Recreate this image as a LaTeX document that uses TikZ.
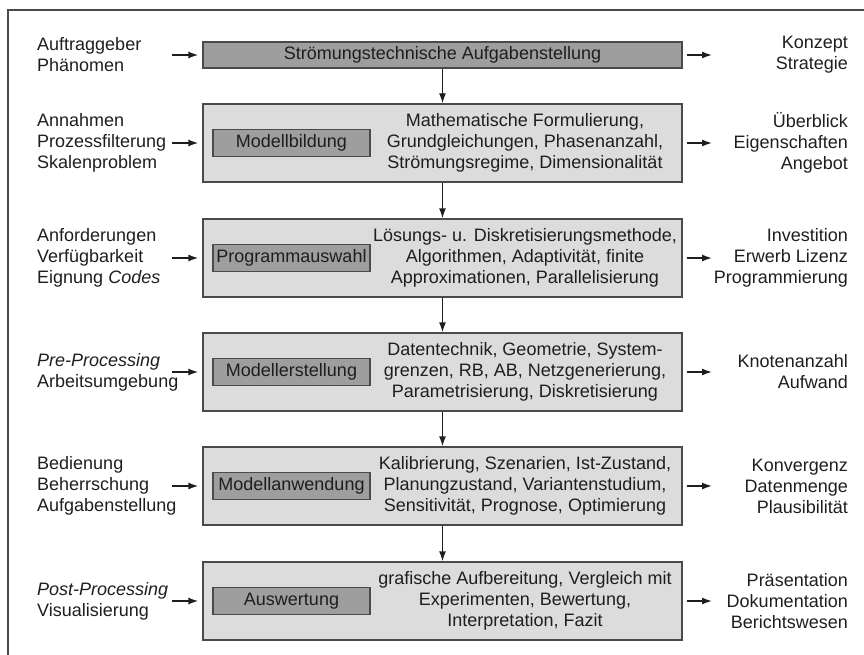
\documentclass[tikz,border=0pt]{standalone}
\usepackage{fontspec}
\setmainfont{Liberation Sans}
\usetikzlibrary{arrows.meta,positioning}
\definecolor{rahmen}{HTML}{4A4A4A}
\definecolor{hell}{HTML}{DCDCDC}
\definecolor{dunkel}{HTML}{9E9E9E}
\definecolor{schrift}{HTML}{1E1E1E}
\tikzset{
  stufe/.style={draw=rahmen, line width=1.4pt, fill=hell, minimum width=479pt, minimum height=78pt, inner sep=0pt},
  kopf/.style={draw=rahmen, line width=1.4pt, fill=dunkel, minimum width=479pt, minimum height=26pt, inner sep=0pt},
  etikett/.style={draw=rahmen, line width=1.4pt, fill=dunkel, minimum width=157pt, minimum height=27pt, inner sep=0pt},
  inhalt/.style={align=center, inner sep=0pt},
  links/.style={anchor=west, align=left, inner sep=0pt},
  rechts/.style={anchor=east, align=right, inner sep=0pt},
  pfeil/.style={-{Latex[length=10pt,width=7pt]}, line width=1.4pt, draw=schrift}
}
\begin{document}
\begin{tikzpicture}[x=1pt, y=-1pt, font=\fontsize{18}{21}\selectfont, text=schrift]
  \useasboundingbox (0,0) rectangle (864,655);
  \draw[rahmen, line width=1.2pt] (864,10) -- (8,10) -- (8,655);

  % mittlere Spalte
  \node[kopf] (auf) at (442.5,55) {Strömungstechnische Aufgabenstellung};
  \node[stufe] (bild) at (442.5,143) {};
  \node[stufe] (prog) at (442.5,258) {};
  \node[stufe] (erst) at (442.5,372) {};
  \node[stufe] (anw) at (442.5,486) {};
  \node[stufe] (ausw) at (442.5,601) {};

  \node[etikett] (bildlab) at (291.5,143) {Modellbildung};
  \node[etikett] (proglab) at (291.5,258) {Programmauswahl};
  \node[etikett] (erstlab) at (291.5,372) {Modellerstellung};
  \node[etikett] (anwlab) at (291.5,486) {Modellanwendung};
  \node[etikett] (auswlab) at (291.5,601) {Auswertung};

  \node[inhalt] (bildtxt) at (525,143) {Mathematische Formulierung,\\Grundgleichungen, Phasenanzahl,\\Strömungsregime, Dimensionalität};
  \node[inhalt] (progtxt) at (525,258) {Lösungs- u. Diskretisierungsmethode,\\Algorithmen, Adaptivität, finite\\Approximationen, Parallelisierung};
  \node[inhalt] (ersttxt) at (525,372) {Datentechnik, Geometrie, System-\\grenzen, RB, AB, Netzgenerierung,\\Parametrisierung, Diskretisierung};
  \node[inhalt] (anwtxt) at (525,486) {Kalibrierung, Szenarien, Ist-Zustand,\\Planungzustand, Variantenstudium,\\Sensitivität, Prognose, Optimierung};
  \node[inhalt] (auswtxt) at (525,601) {grafische Aufbereitung, Vergleich mit\\Experimenten, Bewertung,\\Interpretation, Fazit};

  % linke Spalte
  \node[links] (aufin) at (37,55) {Auftraggeber\\Phänomen};
  \node[links] (bildin) at (37,143) {Annahmen\\Prozessfilterung\\Skalenproblem};
  \node[links] (progin) at (37,258) {Anforderungen\\Verfügbarkeit\\Eignung \textit{Codes}};
  \node[links] (erstin) at (37,372) {\textit{Pre-Processing}\\Arbeitsumgebung};
  \node[links] (anwin) at (37,486) {Bedienung\\Beherrschung\\Aufgabenstellung};
  \node[links] (auswin) at (37,601) {\textit{Post-Processing}\\Visualisierung};

  % rechte Spalte
  \node[rechts] (aufout) at (848,55) {Konzept\\Strategie};
  \node[rechts] (bildout) at (848,143) {Überblick\\Eigenschaften\\Angebot};
  \node[rechts] (progout) at (848,258) {Investition\\Erwerb Lizenz\\Programmierung};
  \node[rechts] (erstout) at (848,372) {Knotenanzahl\\Aufwand};
  \node[rechts] (anwout) at (848,486) {Konvergenz\\Datenmenge\\Plausibilität};
  \node[rechts] (auswout) at (848,601) {Präsentation\\Dokumentation\\Berichtswesen};

  % Pfeile
  \foreach \a/\b in {auf/bild, bild/prog, prog/erst, erst/anw, anw/ausw}
    \draw[pfeil] (\a) -- (\b);
  \foreach \s/\y in {auf/55, bild/143, prog/258, erst/372, anw/486, ausw/601} {
    \coordinate (\s von) at (172,\y);
    \coordinate (\s nach) at (712,\y);
    \draw[pfeil, shorten >=4pt] (\s von) -- (\s);
    \draw[pfeil, shorten <=4pt] (\s) -- (\s nach);
  }
\end{tikzpicture}
\end{document}
